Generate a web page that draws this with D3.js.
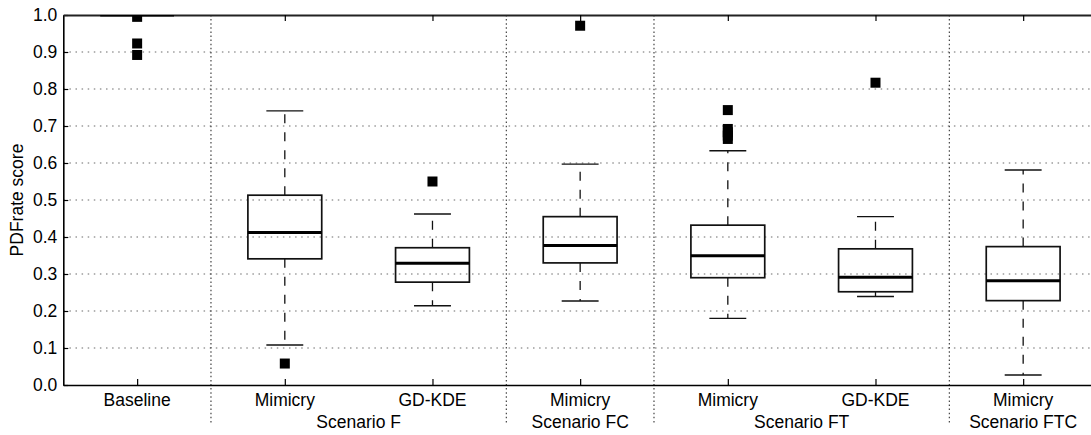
<!DOCTYPE html>
<html>
<head>
<meta charset="utf-8">
<script src="https://cdn.jsdelivr.net/npm/d3@7"></script>
<style>
  html, body { margin: 0; padding: 0; background: #fff; }
  svg { display: block; }
  text { font-family: "Liberation Sans", Arial, Helvetica, sans-serif; fill: #000; }
</style>
</head>
<body>
<svg id="chart" width="1091" height="435"></svg>
<script>
// PDFrate score distributions per attack configuration
const categories = ["Baseline", "Mimicry", "GD-KDE", "Mimicry", "Mimicry", "GD-KDE", "Mimicry"];
const scenarios  = ["", "Scenario F", "Scenario F", "Scenario FC", "Scenario FT", "Scenario FT", "Scenario FTC"];

const whiskerLow  = [1.000, 0.108, 0.214, 0.227, 0.180, 0.239, 0.027];
const q1          = [1.000, 0.341, 0.278, 0.330, 0.290, 0.252, 0.228];
const medians     = [1.000, 0.412, 0.329, 0.377, 0.349, 0.291, 0.282];
const q3          = [1.000, 0.513, 0.371, 0.455, 0.432, 0.368, 0.374];
const whiskerHigh = [1.000, 0.741, 0.462, 0.597, 0.633, 0.455, 0.581];
const outliers = [
  [0.995, 0.923, 0.892],
  [0.058],
  [0.550],
  [0.971],
  [0.743, 0.692, 0.683, 0.674, 0.665],
  [0.817],
  []
];

const yTicks = d3.range(0, 11).map(i => i / 10);

const svg = d3.select("#chart");
const mLeft = 63.3, mTop = 15, mBottom = 385, mRight = 1097;

// boxes sit at positions 1..7, axis spans 0.5..7.5
const x = d3.scaleLinear().domain([0.5, 7.5]).range([mLeft, mRight]);
const y = d3.scaleLinear().domain([0, 1]).range([mBottom, mTop]);
const boxHalf = x(1.25) - x(1);
const capHalf = x(1.125) - x(1);

svg.append("defs").append("clipPath").attr("id", "plotClip")
  .append("rect").attr("x", mLeft).attr("y", mTop)
  .attr("width", mRight - mLeft).attr("height", mBottom - mTop);

// horizontal dotted grid
svg.append("g").selectAll("line")
  .data(yTicks.filter(t => t > 0 && t < 1))
  .join("line")
  .attr("x1", mLeft).attr("x2", mRight)
  .attr("y1", d => y(d)).attr("y2", d => y(d))
  .attr("stroke", "#6a6a6a").attr("stroke-width", 1.1)
  .attr("stroke-dasharray", "1.5 4.6");

// scenario separators (extend below the axis between label groups)
const groupStarts = [];
scenarios.forEach((s, i) => { if (i > 0 && s !== scenarios[i - 1]) groupStarts.push(i + 0.5); });
svg.append("g").selectAll("line")
  .data(groupStarts)
  .join("line")
  .attr("x1", d => x(d)).attr("x2", d => x(d))
  .attr("y1", mTop).attr("y2", 423)
  .attr("stroke", "#333").attr("stroke-width", 1.1)
  .attr("stroke-dasharray", "1.5 2.6");

// axes frame
const yAxis = d3.axisLeft(y).tickValues(yTicks).tickFormat(d3.format(".1f"))
  .tickSizeInner(-5).tickSizeOuter(0).tickPadding(6);
const yg = svg.append("g").attr("transform", `translate(${mLeft},0)`).call(yAxis);
yg.select(".domain").attr("stroke", "#000").attr("stroke-width", 1.6);
yg.selectAll(".tick line").attr("stroke", "#000").attr("stroke-width", 1.2);
yg.selectAll(".tick text").attr("font-size", 17.5)
  .attr("font-family", "Liberation Sans, Arial, sans-serif").attr("fill", "#000")
  .attr("x", -6);

const positions = categories.map((_, i) => i + 1);
const xAxis = d3.axisBottom(x).tickValues(positions).tickFormat(() => "")
  .tickSizeInner(-6).tickSizeOuter(0);
const xg = svg.append("g").attr("transform", `translate(0,${mBottom})`).call(xAxis);
xg.select(".domain").attr("stroke", "#000").attr("stroke-width", 1.6);
xg.selectAll(".tick line").attr("stroke", "#000").attr("stroke-width", 1.2);

const xTop = d3.axisTop(x).tickValues(positions).tickFormat(() => "")
  .tickSizeInner(-6).tickSizeOuter(0);
const xtg = svg.append("g").attr("transform", `translate(0,${mTop})`).call(xTop);
xtg.select(".domain").attr("stroke", "#222").attr("stroke-width", 1.8);
xtg.selectAll(".tick line").attr("stroke", "#000").attr("stroke-width", 1.2);

// category and scenario labels
svg.append("g").selectAll("text")
  .data(categories)
  .join("text")
  .attr("x", (d, i) => x(i + 1)).attr("y", 405.5)
  .attr("text-anchor", "middle").attr("font-size", 17.5)
  .text(d => d);

const groups = [];
scenarios.forEach((s, i) => {
  if (!s) return;
  const g = groups.find(v => v.name === s);
  if (g) g.end = i + 1; else groups.push({ name: s, start: i + 1, end: i + 1 });
});
svg.append("g").selectAll("text")
  .data(groups)
  .join("text")
  .attr("x", d => x((d.start + d.end) / 2)).attr("y", 428)
  .attr("text-anchor", "middle").attr("font-size", 17.5)
  .text(d => d.name);

// y-axis title
svg.append("text")
  .attr("transform", `translate(23,${(mTop + mBottom) / 2}) rotate(-90)`)
  .attr("text-anchor", "middle").attr("font-size", 17.5)
  .text("PDFrate score");

// box plots
const plot = svg.append("g").attr("clip-path", "url(#plotClip)");
const boxes = plot.selectAll("g.box")
  .data(categories.map((c, i) => ({
    i, pos: i + 1,
    lo: whiskerLow[i], q1: q1[i], med: medians[i], q3: q3[i], hi: whiskerHigh[i],
    out: outliers[i]
  })))
  .join("g").attr("class", "box");

// dashed whiskers
boxes.append("line")
  .attr("x1", d => x(d.pos)).attr("x2", d => x(d.pos))
  .attr("y1", d => y(d.q3)).attr("y2", d => y(d.hi))
  .attr("stroke", "#111").attr("stroke-width", 1.3)
  .attr("stroke-dasharray", "9 9");
boxes.append("line")
  .attr("x1", d => x(d.pos)).attr("x2", d => x(d.pos))
  .attr("y1", d => y(d.q1)).attr("y2", d => y(d.lo))
  .attr("stroke", "#111").attr("stroke-width", 1.3)
  .attr("stroke-dasharray", "9 9");

// whisker caps
["lo", "hi"].forEach(k => {
  boxes.append("line")
    .attr("x1", d => x(d.pos) - capHalf).attr("x2", d => x(d.pos) + capHalf)
    .attr("y1", d => y(d[k])).attr("y2", d => y(d[k]))
    .attr("stroke", "#111").attr("stroke-width", 1.4);
});

// interquartile boxes
boxes.append("rect")
  .attr("x", d => x(d.pos) - boxHalf).attr("width", 2 * boxHalf)
  .attr("y", d => y(d.q3)).attr("height", d => Math.max(0, y(d.q1) - y(d.q3)))
  .attr("fill", "none").attr("stroke", "#111").attr("stroke-width", 1.7);

// medians
boxes.append("line")
  .attr("x1", d => x(d.pos) - boxHalf).attr("x2", d => x(d.pos) + boxHalf)
  .attr("y1", d => y(d.med)).attr("y2", d => y(d.med))
  .attr("stroke", "#000").attr("stroke-width", 3);

// outliers
boxes.selectAll("rect.out")
  .data(d => d.out.map(v => ({ pos: d.pos, v })))
  .join("rect").attr("class", "out")
  .attr("x", d => x(d.pos) - 5).attr("y", d => y(d.v) - 5)
  .attr("width", 10).attr("height", 10)
  .attr("fill", "#000");
</script>
</body>
</html>
